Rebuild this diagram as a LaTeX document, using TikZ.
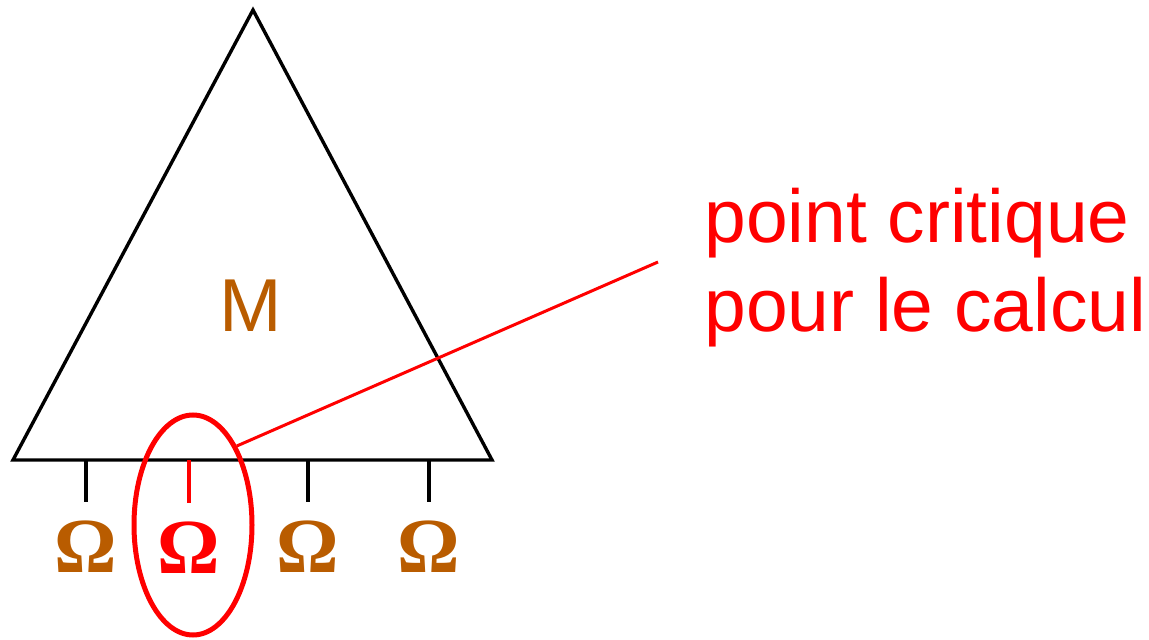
\documentclass[tikz,border=0pt]{standalone}
\usepackage{fontspec}
\setmainfont{Liberation Sans}
\newfontfamily\omegafont{Liberation Serif}
\usetikzlibrary{shapes.geometric}
\definecolor{rust}{RGB}{185,92,0}
\definecolor{alert}{RGB}{255,0,0}

\begin{document}
\begin{tikzpicture}[x=.5pt,y=-.5pt,
  side/.style={line width=1.7pt,line join=miter},
  tick/.style={line width=2pt,shorten >=9pt},
  omega/.style={inner sep=0pt,anchor=base,text=rust,font=\omegafont\bfseries\fontsize{39}{40}\selectfont},
  callout/.style={inner sep=0pt,text=alert,align=left,font=\fontsize{37.5}{44.5}\selectfont}]
\path[use as bounding box] (0,0) rectangle (1149,640);
\coordinate (apex) at (253,10);
\coordinate (left) at (13,460);
\coordinate (right) at (492,460);
\draw[side] (left)--(apex)--(right)--cycle;
\node[anchor=base,inner sep=0pt,text=rust,font=\fontsize{37.5}{40}\selectfont] (m) at (251,332) {M};
\node[omega] (om1) at (86,572) {Ω};
\node[omega,text=alert] (om2) at (189,573) {Ω};
\node[omega] (om3) at (308,572) {Ω};
\node[omega] (om4) at (429,572) {Ω};
\draw[tick] (om1.north |- left) -- (om1.north);
\draw[tick,alert] (om2.north |- left) -- (om2.north);
\draw[tick] (om3.north |- left) -- (om3.north);
\draw[tick] (om4.north |- left) -- (om4.north);
\node[draw=alert,line width=2.5pt,ellipse,minimum width=59pt,minimum height=110pt,inner sep=0pt] (crit) at (193,525) {};
\node[callout,anchor=base west] (note) at (704,332) {point critique\\pour le calcul};
\coordinate (tip) at (658,262);
\draw[alert,line width=1.5pt] (crit.61) -- (tip);
\end{tikzpicture}
\end{document}
